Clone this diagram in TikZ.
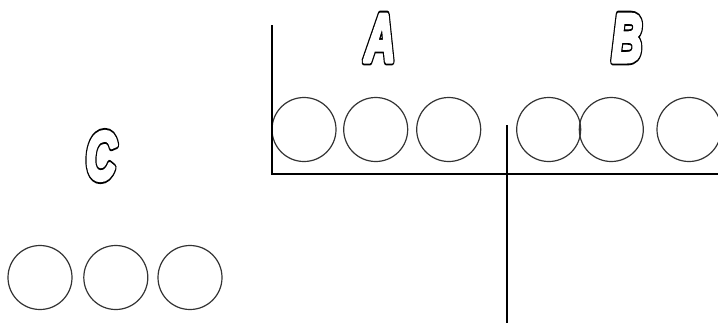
\documentclass[tikz,border=0pt]{standalone}
\usepackage{fontspec}
\setmainfont{Liberation Sans}
\newcommand\outlined[1]{\scalebox{0.62}[1]{\rlap{\special{pdf:code 0 g 0 G 2 Tr 8 w 1 j}#1\special{pdf:code 0 Tr}}\special{pdf:code 1 g 1 G 2 Tr 4.2 w 1 j}#1\special{pdf:code 0 Tr 0 g 0 G 0 j}}}
\tikzset{
  ring/.style={draw=black!80, line width=1.2pt, circle, minimum size=64pt, inner sep=0pt},
  wall/.style={draw=black, line width=1.3pt},
  letter/.style={inner sep=0pt, font=\fontsize{68}{68}\selectfont\bfseries\itshape}
}
\begin{document}
\begin{tikzpicture}[x=1pt,y=-1pt]
\useasboundingbox (0,0) rectangle (718,325);
\clip (0,0) rectangle (718,325);
% labels
\node[letter] (la) at (380,38) {\outlined{A}};
\node[letter] (lb) at (627,38) {\outlined{B}};
\node[letter] (lc) at (101,156) {\outlined{C}};
% circles
\node[ring] (a1) at (304,129.5) {};
\node[ring] (a2) at (375.7,129.5) {};
\node[ring] (a3) at (448.7,129.5) {};
\node[ring] (b1) at (548.7,129.5) {};
\node[ring] (b2) at (611.3,129.5) {};
\node[ring] (b3) at (689,129.5) {};
\node[ring] (c1) at (40,277.5) {};
\node[ring] (c2) at (115.8,277.5) {};
\node[ring] (c3) at (190,277.5) {};
% walls
\coordinate (w1) at (272,25);
\coordinate (w2) at (272,174);
\coordinate (w3) at (718,174);
\coordinate (m1) at (507,125);
\coordinate (m2) at (507,323);
\draw[wall] (w1) -- (w2) -- (w3);
\draw[wall] (m1) -- (m2);
\end{tikzpicture}
\end{document}
